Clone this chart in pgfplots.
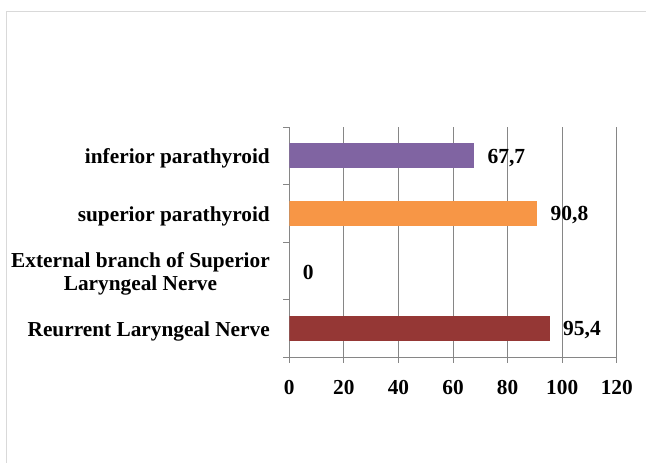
\documentclass[border=0pt]{standalone}
\usepackage{pgfplots}
\pgfplotsset{compat=1.18}
\usepackage{fontspec}
\setmainfont{Liberation Serif}
\definecolor{cPurple}{HTML}{8064A2}
\definecolor{cOrange}{HTML}{F79646}
\definecolor{cRed}{HTML}{953735}
\definecolor{gridgray}{HTML}{868686}
\definecolor{framegray}{HTML}{D9D9D9}
\begin{document}
\begin{tikzpicture}[x=1pt,y=1pt]
\useasboundingbox (0,0) rectangle (646,463);
\draw[framegray, line width=1.2pt] (6.5,-20) -- (6.5,451.5) -- (700,451.5);
\begin{axis}[
  at={(289.3pt,106pt)}, anchor=south west,
  scale only axis, width=327.5pt, height=230pt,
  xmin=0, xmax=120, ymin=-0.5, ymax=3.5,
  xbar, bar width=0.435,
  axis x line*=bottom, axis y line*=left,
  axis line style={gridgray, line width=0.9pt, -},
  xtick={0,20,...,120},
  ytick={-0.5,0.5,1.5,2.5,3.5},
  yticklabels={,,,,},
  extra y ticks={0,1,2,3},
  extra y tick labels={Reurrent Laryngeal Nerve,{External branch of Superior\\Laryngeal Nerve},superior parathyroid,inferior parathyroid},
  extra y tick style={major tick length=0pt, tick style={draw=none}},
  tick align=outside, major tick length=6pt,
  tick style={gridgray, line width=0.9pt},
  xmajorgrids, grid style={gridgray, line width=0.9pt},
  /pgf/number format/assume math mode=true,
  tick label style={font=\bfseries\fontsize{21.3}{22.5}\selectfont},
  yticklabel style={align=center, xshift=-16pt, yshift=-3pt},
  xticklabel style={yshift=-14pt},
  point meta=explicit symbolic,
  nodes near coords,
  every node near coord/.style={font=\bfseries\fontsize{21.5}{22}\selectfont, anchor=west, xshift=10pt, yshift=-2pt, black},
]
\addplot[fill=cRed, draw=none, bar shift=0pt] table[meta=label] {
x y label
95.4 0 95,4
};
\addplot[fill=white, draw=none, bar shift=0pt] table[meta=label] {
x y label
0 1 0
};
\addplot[fill=cOrange, draw=none, bar shift=0pt] table[meta=label] {
x y label
90.8 2 90,8
};
\addplot[fill=cPurple, draw=none, bar shift=0pt] table[meta=label] {
x y label
67.7 3 67,7
};
\end{axis}
\end{tikzpicture}
\end{document}
